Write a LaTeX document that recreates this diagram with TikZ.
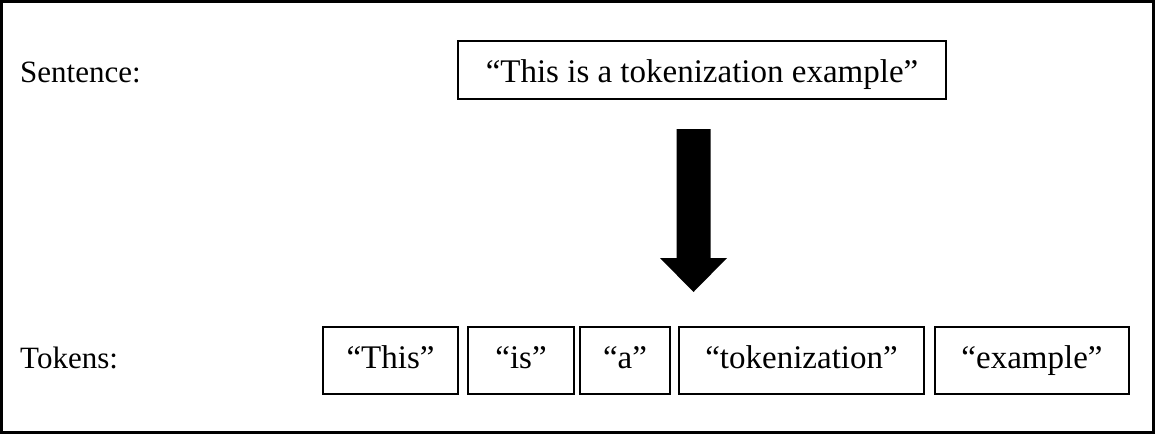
\documentclass[tikz,border=0pt]{standalone}
\usepackage{fontspec}
\setmainfont{Liberation Serif}
\begin{document}
\begin{tikzpicture}[x=1pt,y=-1pt,
  lbl/.style={anchor=base west,inner sep=0pt,font=\fontsize{31}{37}\selectfont},
  tokbox/.style={draw,line width=1.3pt,inner sep=0pt,minimum height=67pt,
    text height=22pt,text depth=7pt,font=\fontsize{33}{40}\selectfont},
  sentbox/.style={draw,line width=1.3pt,inner sep=0pt,minimum width=488pt,minimum height=58pt,
    text height=30pt,text depth=6pt,font=\fontsize{33}{40}\selectfont}]
\useasboundingbox (0,0) rectangle (1155,434);
\draw[line width=2.6pt] (1.5,1.5) rectangle (1153.5,432.5);
\node[lbl] (slabel) at (20,82) {Sentence:};
\node[lbl] (tlabel) at (20,368) {Tokens:};
\node[sentbox] (sent) at (702,70) {“This is a tokenization example”};
\node[tokbox,minimum width=135pt] (t1) at (390.5,360.5) {“This”};
\node[tokbox,minimum width=106pt] (t2) at (521,360.5) {“is”};
\node[tokbox,minimum width=90pt] (t3) at (625,360.5) {“a”};
\node[tokbox,minimum width=245pt] (t4) at (801.5,360.5) {“tokenization”};
\node[tokbox,minimum width=194pt] (t5) at (1032,360.5) {“example”};
\coordinate (atop) at (693.5,129);
\coordinate (atip) at (693.5,292);
\fill ([xshift=-17pt]atop) -- ([xshift=17pt]atop) -- (710.5,258) -- (727,258) -- (atip) -- (660,258) -- (676.5,258) -- cycle;
\end{tikzpicture}
\end{document}
